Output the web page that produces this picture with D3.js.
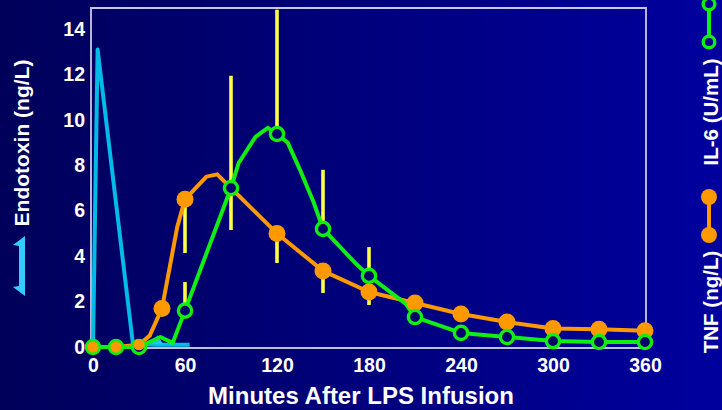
<!DOCTYPE html>
<html>
<head>
<meta charset="utf-8">
<script src="https://cdn.jsdelivr.net/npm/d3@7"></script>
<style>
  html, body { margin: 0; padding: 0; background: #000070; }
  svg { display: block; font-family: "Liberation Sans", Arial, sans-serif; font-weight: bold; }
</style>
</head>
<body>
<svg id="chart" width="722" height="410"></svg>
<script>
// time in minutes after LPS infusion
var xTicks = [0, 60, 120, 180, 240, 300, 360];
var yTicks = [0, 2, 4, 6, 8, 10, 12, 14];

// endotoxin (ng/L)
var endoLine = [[0, 0], [3, 13.1], [26, 0.15], [40, 0.1], [63, 0.1]];
var endoMarker = [[42, 0.3]];

// TNF (ng/L) - curve incl. intermediate points, markers at sampling times
var tnfLine = [[0, 0], [15, 0], [30, 0.1], [37, 0.5], [45, 1.7], [55, 5.3], [60, 6.5], [74, 7.5],
  [81, 7.6], [90, 7.0], [120, 5.0], [150, 3.35], [180, 2.42], [210, 1.94], [240, 1.45],
  [270, 1.1], [300, 0.81], [330, 0.78], [360, 0.72]];
var tnfMarkerTimes = [0, 15, 30, 45, 60, 120, 150, 180, 210, 240, 270, 300, 330, 360];

// IL-6 (U/mL)
var il6Line = [[0, 0], [15, 0], [30, 0], [44, 0.44], [52, 0.18], [60, 1.6], [90, 7.0], [95, 8.1],
  [106, 9.25], [114, 9.65], [120, 9.38], [127, 9.0], [135, 7.8], [144, 6.35], [150, 5.2],
  [171, 3.7], [180, 3.13], [204, 1.9], [210, 1.32], [240, 0.62], [270, 0.44], [300, 0.26],
  [330, 0.22], [360, 0.22]];
var il6MarkerTimes = [0, 15, 30, 60, 90, 120, 150, 180, 210, 240, 270, 300, 330, 360];

// error bars: IL-6 upper bound, TNF lower bound
var errTimes = [60, 90, 120, 150, 180];
var il6Upper = [2.86, 11.94, 14.85, 7.8, 4.4];
var tnfLower = [4.14, 5.15, 3.7, 2.38, 1.85];

var svg = d3.select('#chart');

// background gradient
var grad = svg.append('defs').append('linearGradient')
  .attr('id', 'bg').attr('x1', 0).attr('x2', 1).attr('y1', 0).attr('y2', 0);
grad.append('stop').attr('offset', '0%').attr('stop-color', '#00005a');
grad.append('stop').attr('offset', '100%').attr('stop-color', '#00009e');
svg.append('rect').attr('width', 722).attr('height', 410).attr('fill', 'url(#bg)');

var x = d3.scaleLinear().domain([0, 360]).range([93, 645]);
var y = d3.scaleLinear().domain([0, 14]).range([347, 29]);

// frame
svg.append('path')
  .attr('d', 'M91,348 V8 H646 V348')
  .attr('fill', 'none').attr('stroke', '#c8c8e6').attr('stroke-width', 1.8);

// axes
var xAxis = svg.append('g')
  .attr('transform', 'translate(0,348)')
  .call(d3.axisBottom(x).tickValues(xTicks).tickSize(0).tickPadding(10));
xAxis.select('.domain').remove();
xAxis.selectAll('text').attr('fill', '#fff').attr('font-size', 19.5).attr('font-weight', 'bold')
  .attr('font-family', '"Liberation Sans", Arial, sans-serif');
svg.append('line').attr('x1', 86).attr('x2', 646).attr('y1', 348).attr('y2', 348)
  .attr('stroke', '#fff').attr('stroke-width', 1.6);

var yAxis = svg.append('g')
  .attr('transform', 'translate(91,0)')
  .call(d3.axisLeft(y).tickValues(yTicks).tickSize(0).tickPadding(6));
yAxis.select('.domain').remove();
yAxis.selectAll('text').attr('fill', '#fff').attr('font-size', 19.5).attr('font-weight', 'bold')
  .attr('font-family', '"Liberation Sans", Arial, sans-serif');

var line = d3.line().x(function(d){ return x(d[0]); }).y(function(d){ return y(d[1]); });

function valueAt(series, t){
  return series.filter(function(d){ return d[0] === t; })[0][1];
}

// endotoxin
svg.append('path').datum(endoLine).attr('d', line)
  .attr('fill', 'none').attr('stroke', '#00bbe8').attr('stroke-width', 4).attr('stroke-linejoin', 'round');
svg.selectAll('.endo-mark').data(endoMarker).enter().append('path')
  .attr('class', 'endo-mark')
  .attr('d', function(d){
    var cx = x(d[0]), cy = y(d[1]);
    return 'M' + (cx - 6) + ',' + (cy + 4) + 'L' + cx + ',' + (cy - 5) + 'L' + (cx + 6) + ',' + (cy + 4) + 'Z';
  })
  .attr('fill', '#22c4f4');

// error bars
var bars = svg.append('g').attr('stroke', '#ffff44').attr('stroke-width', 3.6);
errTimes.forEach(function(t, i){
  bars.append('line').attr('x1', x(t)).attr('x2', x(t))
    .attr('y1', y(valueAt(il6Line, t))).attr('y2', y(il6Upper[i]));
  bars.append('line').attr('x1', x(t)).attr('x2', x(t))
    .attr('y1', y(valueAt(tnfLine, t))).attr('y2', y(tnfLower[i]));
});

// lines
svg.append('path').datum(tnfLine).attr('d', line)
  .attr('fill', 'none').attr('stroke', '#ff9900').attr('stroke-width', 4).attr('stroke-linejoin', 'round');
svg.append('path').datum(il6Line).attr('d', line)
  .attr('fill', 'none').attr('stroke', '#11ee11').attr('stroke-width', 4).attr('stroke-linejoin', 'round');

// TNF markers (non-zero), IL-6 open circles on top, baseline TNF dots on top of those
var tnfMarks = tnfMarkerTimes.map(function(t){ return [t, valueAt(tnfLine, t)]; });
var il6Marks = il6MarkerTimes.map(function(t){ return [t, valueAt(il6Line, t)]; });

svg.selectAll('.tnf-dot').data(tnfMarks.filter(function(d){ return d[0] > 30; })).enter()
  .append('circle').attr('class', 'tnf-dot')
  .attr('cx', function(d){ return x(d[0]); }).attr('cy', function(d){ return y(d[1]); })
  .attr('r', 8.5).attr('fill', '#ff9900');

svg.selectAll('.il6-dot').data(il6Marks).enter()
  .append('circle').attr('class', 'il6-dot')
  .attr('cx', function(d){ return x(d[0]); }).attr('cy', function(d){ return y(d[1]); })
  .attr('r', 6.6).attr('fill', '#00006a').attr('stroke', '#11ee11').attr('stroke-width', 3.4);

svg.selectAll('.tnf-base').data(tnfMarks.filter(function(d){ return d[0] <= 30; })).enter()
  .append('circle').attr('class', 'tnf-base')
  .attr('cx', function(d){ return x(d[0]); }).attr('cy', function(d){ return y(d[1]); })
  .attr('r', 5.6).attr('fill', '#ff9900');

// axis titles
svg.append('text').attr('x', 361).attr('y', 404).attr('text-anchor', 'middle')
  .attr('fill', '#fff').attr('font-size', 24).text('Minutes After LPS Infusion');

svg.append('text').attr('transform', 'translate(29,143) rotate(-90)').attr('text-anchor', 'middle')
  .attr('fill', '#fff').attr('font-size', 21).text('Endotoxin (ng/L)');

// endotoxin double arrow key
svg.append('path')
  .attr('d', 'M25,236 L13,245 L19,246 L19,286 L13,287 L25,296 Z')
  .attr('fill', '#33ccff');

// right legend
var legend = svg.append('g');
legend.append('line').attr('x1', 709).attr('x2', 709).attr('y1', 4).attr('y2', 42)
  .attr('stroke', '#11ee11').attr('stroke-width', 4);
[4, 42].forEach(function(cy){
  legend.append('circle').attr('cx', 709).attr('cy', cy).attr('r', 5.8)
    .attr('fill', '#000090').attr('stroke', '#11ee11').attr('stroke-width', 3.4);
});
legend.append('text').attr('transform', 'translate(718,112) rotate(-90)').attr('text-anchor', 'middle')
  .attr('fill', '#fff').attr('font-size', 20.5).text('IL-6 (U/mL)');

legend.append('line').attr('x1', 709).attr('x2', 709).attr('y1', 197).attr('y2', 235)
  .attr('stroke', '#ff9900').attr('stroke-width', 4);
[197, 235].forEach(function(cy){
  legend.append('circle').attr('cx', 709).attr('cy', cy).attr('r', 8).attr('fill', '#ff9900');
});
legend.append('text').attr('transform', 'translate(718,302) rotate(-90)').attr('text-anchor', 'middle')
  .attr('fill', '#fff').attr('font-size', 20.5).text('TNF (ng/L)');
</script>
</body>
</html>
